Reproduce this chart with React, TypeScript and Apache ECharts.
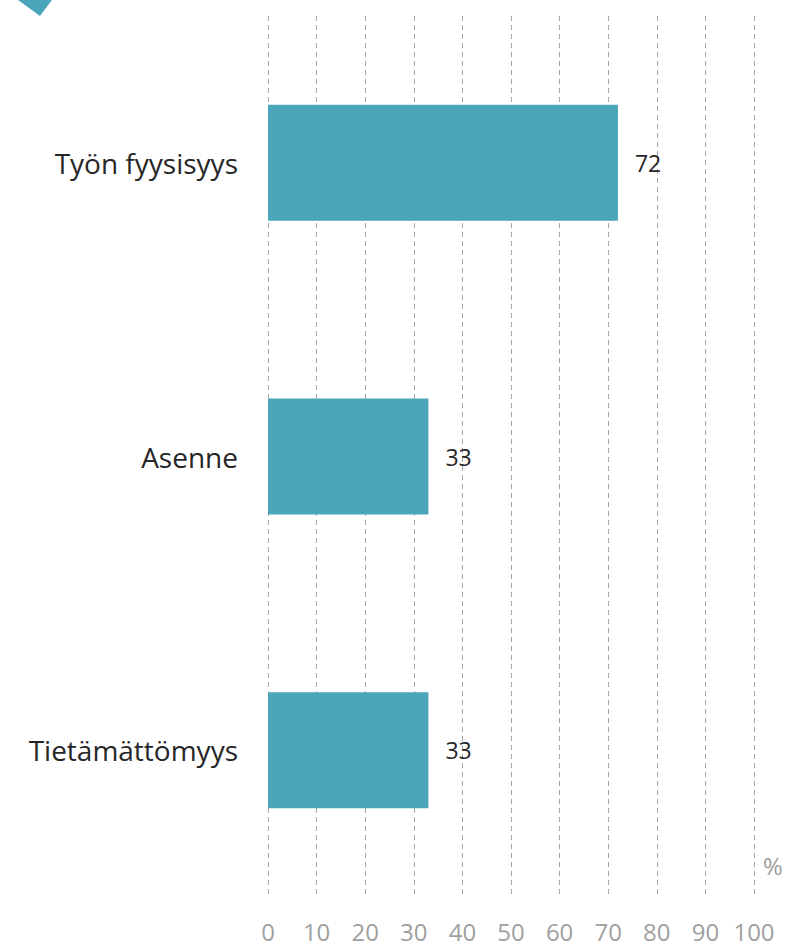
import React, { useEffect, useRef } from "react";
import * as echarts from "echarts";

const categories = ["Työn fyysisyys", "Asenne", "Tietämättömyys"];
const values = [72, 33, 33];
const xTicks = [0, 10, 20, 30, 40, 50, 60, 70, 80, 90, 100];

export default function App() {
  const ref = useRef<HTMLDivElement>(null);
  useEffect(() => {
    if (!ref.current) return;
    const chart = echarts.init(ref.current, null, { renderer: "svg" });
    const font = "'Open Sans', sans-serif";
    chart.setOption({
      animation: false,
      grid: { left: 268, right: 53, top: 16, bottom: 54, containLabel: false },
      xAxis: {
        type: "value",
        min: xTicks[0],
        max: xTicks[xTicks.length - 1],
        interval: 10,
        axisLine: { show: false },
        axisTick: { show: false },
        axisLabel: { color: "#a0a0a0", fontSize: 24, fontFamily: font, margin: 22 },
        splitLine: { show: true, lineStyle: { color: "#a8a8a8", type: [5, 4], width: 1 } },
      },
      yAxis: {
        type: "category",
        data: categories,
        inverse: true,
        axisLine: { show: false },
        axisTick: { show: false },
        axisLabel: { color: "#262626", fontSize: 28, fontFamily: font, margin: 30 },
      },
      series: [
        {
          type: "bar",
          data: values,
          barWidth: 116,
          itemStyle: { color: "#4ba6bb" },
          label: {
            show: true,
            position: "right",
            distance: 17,
            color: "#262626",
            fontSize: 23,
            fontFamily: font,
          },
        },
      ],
      graphic: [
        {
          type: "polygon",
          shape: { points: [[18, 0], [52, 0], [40, 16]] },
          style: { fill: "#4ba6bb" },
        },
        {
          type: "text",
          x: 763,
          y: 853,
          style: { text: "%", fill: "#a0a0a0", fontSize: 24, fontFamily: font },
        },
      ],
    });
    return () => chart.dispose();
  }, []);
  return (
    <div
      ref={ref}
      style={{ position: "absolute", left: 0, top: 0, width: 807, height: 951 }}
    />
  );
}
